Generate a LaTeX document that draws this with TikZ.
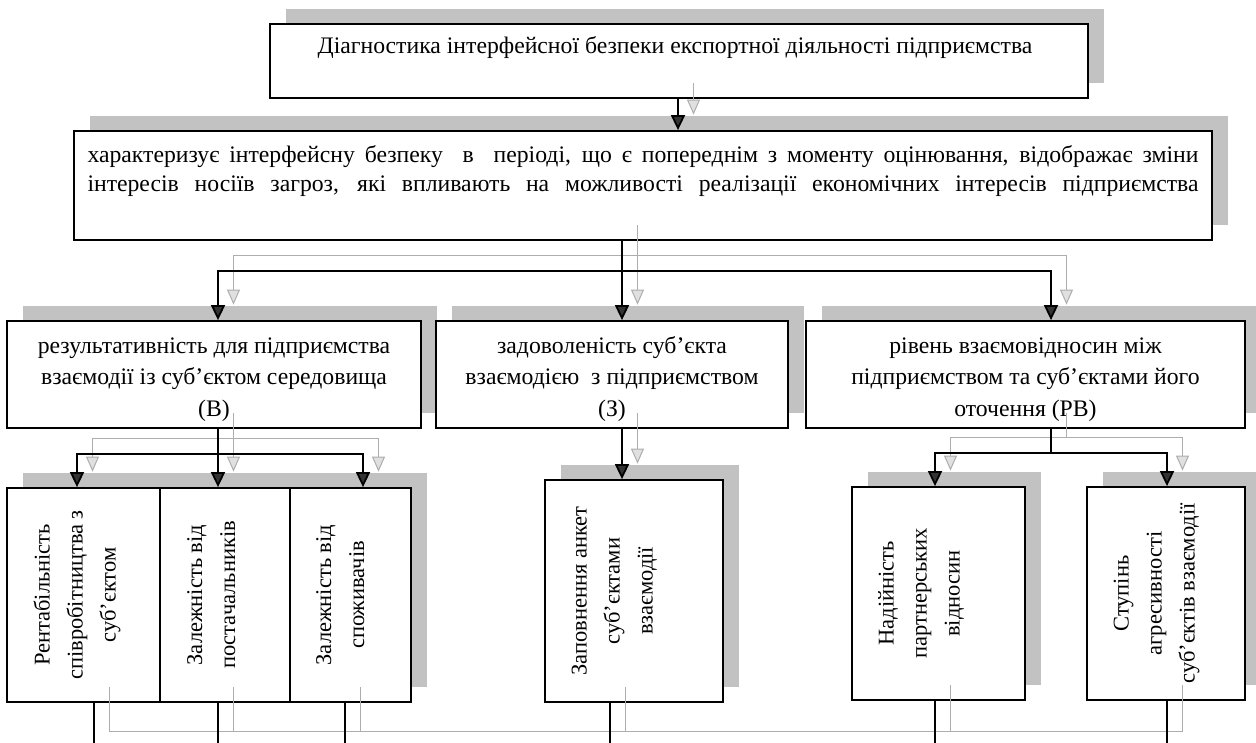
\documentclass[tikz,border=0pt]{standalone}
\usepackage{fontspec}
\setmainfont{Liberation Serif}
\usetikzlibrary{arrows.meta,shadows}

% rotated label; #1 = room added on the right (moves the text left)
\newcommand{\vtext}[2][0pt]{\rotatebox{90}{\begin{tabular}{@{}c@{}}#2\end{tabular}}\hspace*{#1}}

% every connector, drawn with the wire/tip styles in force
\newcommand{\links}{%
  \draw[wire,tip] ([xshift=-1pt]diag.south) -- ([xshift=-1pt]diag.south |- char.north);
  \draw[wire,tip] ([xshift=-21pt]char.south) -- ([xshift=10pt]satZ.north);
  \draw[wire,tip] ([xshift=-21pt]char.south) ++(0,30) -| ([xshift=4pt]resB.north);
  \draw[wire,tip] ([xshift=-21pt]char.south) ++(0,30) -| ([xshift=25.5pt]relRV.north);
  \draw[wire,tip] ([xshift=4pt]resB.south) -- ([xshift=-7pt]r2.north);
  \draw[wire,tip] ([xshift=4pt]resB.south) ++(0,25) -| ([xshift=-6.5pt]r1.north);
  \draw[wire,tip] ([xshift=4pt]resB.south) ++(0,25) -| ([xshift=12.5pt]r3.north);
  \draw[wire,tip] ([xshift=10pt]satZ.south) -- ([xshift=-12pt]z1.north);
  \draw[wire,tip] ([xshift=25.5pt]relRV.south) -- ++(0,24) -| ([xshift=-3.5pt]v1.north);
  \draw[wire,tip] ([xshift=25.5pt]relRV.south) ++(0,24) -| ([xshift=1pt]v2.north);
  % lines leaving the picture at the bottom
  \draw[wire] ([xshift=10.5pt]r1.south) -- ([xshift=10.5pt]r1.south |- bus) -| ([xshift=1pt]v2.south);
  \foreach \n/\dx in {r2/-7pt, r3/-5.5pt, z1/-24pt, v1/-3.5pt}
    \draw[wire] ([xshift=\dx]\n.south) -- ([xshift=\dx]\n.south |- bus);
}

\tikzset{
  box/.style={draw, line width=1.8pt, fill=white, inner sep=0pt,
    font=\fontsize{23.7}{31.5}\selectfont,
    drop shadow={shadow xshift=16pt, shadow yshift=15.5pt, opacity=1, fill=black!24}},
  vbox/.style={box, font=\fontsize{22.5}{33}\selectfont},
  wire/.style={line width=1.8pt, draw=black},
  tip/.style={-{Triangle[width=14pt, length=15pt, fill=black!80]}},
  ghostwire/.style={line width=1pt, draw=black!32},
  ghosttip/.style={-{Triangle[open, width=13pt, length=15pt, fill=black!12]}},
}

\begin{document}
\begin{tikzpicture}[x=1pt, y=-1pt]
  \useasboundingbox (0,0) rectangle (1256,742);
  \clip (0,0) rectangle (1256,742);

  % first two levels
  \node[box, minimum width=818pt, minimum height=74pt, align=center] (diag) at (679,61)
    {Діагностика інтерфейсної безпеки експортної діяльності підприємства\hspace*{8pt}\\\mbox{}};
  \node[box, minimum width=1138pt, minimum height=109pt, align=left,
        font=\fontsize{23.7}{29}\selectfont] (char) at (643,185.5)
    {\makebox[1111pt][s]{характеризує інтерфейсну безпеку\ \ в\ \ періоді, що є попереднім з моменту оцінювання, відображає зміни}\\
     \makebox[1111pt][s]{інтересів носіїв загроз, які впливають на можливості реалізації економічних інтересів підприємства}\\[4pt]\mbox{}};

  % indicators
  \node[box, minimum width=414pt, minimum height=107pt, align=center] (resB) at (214,374.5)
    {\rule{0pt}{26pt}результативність для підприємства\\взаємодії із суб’єктом середовища\\(В)};
  \node[box, minimum width=352pt, minimum height=107pt, align=center] (satZ) at (612,374.5)
    {\rule{0pt}{26pt}задоволеність суб’єкта\\взаємодією\ \ з підприємством\\(З)};
  \node[box, minimum width=439pt, minimum height=107pt, align=center] (relRV) at (1025.5,374.5)
    {\rule{0pt}{26pt}рівень взаємовідносин між\\підприємством та суб’єктами його\\оточення (РВ)};

  % ways to measure them
  \node[vbox, minimum width=153pt, minimum height=214pt] (r1) at (83.5,595)
    {\vtext[15pt]{Рентабільність\\співробітництва з\\суб’єктом}};
  \node[vbox, minimum width=130pt, minimum height=214pt] (r2) at (225,595)
    {\vtext[26pt]{Залежність від\\постачальників}};
  \node[vbox, minimum width=121pt, minimum height=214pt] (r3) at (350.5,595)
    {\vtext[19pt]{Залежність від\\споживачів}};
  \node[vbox, minimum width=178pt, minimum height=222pt] (z1) at (634,591)
    {\vtext[42pt]{Заповнення анкет\\суб’єктами\\взаємодії}};
  \node[vbox, minimum width=173pt, minimum height=213pt] (v1) at (938.5,593.5)
    {\vtext[37pt]{Надійність\\партнерських\\відносин}};
  \node[vbox, minimum width=158pt, minimum height=213pt] (v2) at (1166,593.5)
    {\vtext[22pt]{Ступінь\\агресивності\\суб’єктів взаємодії}};

  \coordinate (bus) at (0,747);

  % grey copy of the connectors, shifted like the shadows
  \begin{scope}[transform canvas={xshift=15.5pt, yshift=15.5pt},
                wire/.style={ghostwire}, tip/.style={ghosttip}]
    \links
  \end{scope}
  \links
\end{tikzpicture}
\end{document}
